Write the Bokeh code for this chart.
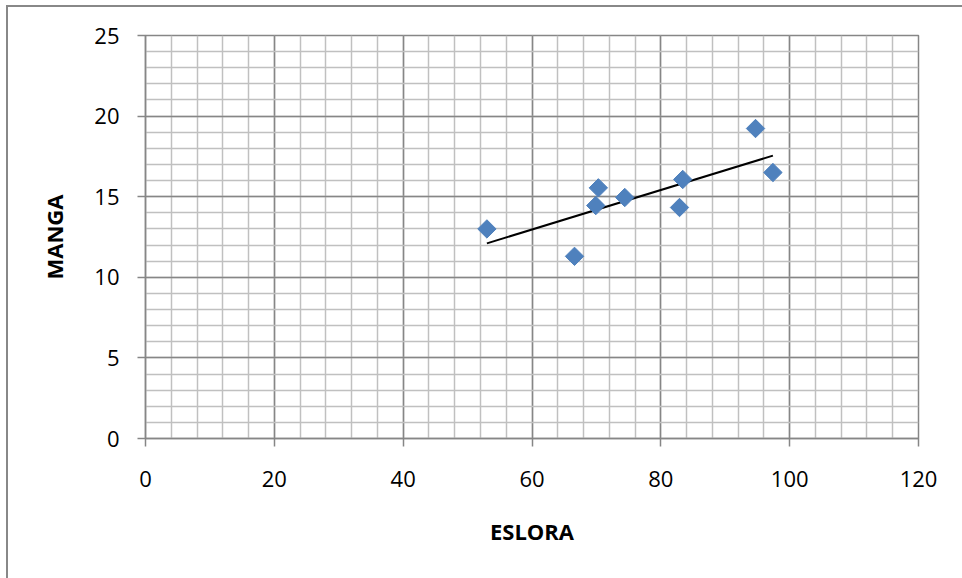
import numpy as np
from bokeh.plotting import figure
from bokeh.models import FixedTicker, Range1d, InlineStyleSheet
from bokeh.embed import file_html
from bokeh.resources import INLINE

# data
eslora = [53.0, 66.6, 70.3, 69.9, 74.4, 83.4, 82.9, 94.7, 97.4]
manga = [13.0, 11.3, 15.55, 14.45, 14.95, 16.07, 14.33, 19.23, 16.5]
x_ticks = [0, 20, 40, 60, 80, 100, 120]
y_ticks = [0, 5, 10, 15, 20, 25]
x_minor = list(range(0, 121, 4))
y_minor = list(range(0, 26, 1))

# linear trend line through the data (as in the original spreadsheet)
slope, intercept = np.polyfit(eslora, manga, 1)
trend_x = [min(eslora), max(eslora)]
trend_y = [slope * v + intercept for v in trend_x]

MAJ = "#868686"
MIN = "#c0c0c0"
FONT = "Open Sans"

p = figure(width=962, height=578, output_backend="svg", toolbar_location=None,
           x_range=Range1d(0, 120), y_range=Range1d(0, 25),
           min_border_left=145, min_border_right=44, min_border_top=35, min_border_bottom=140)

p.xaxis.ticker = FixedTicker(ticks=x_ticks, minor_ticks=x_minor)
p.yaxis.ticker = FixedTicker(ticks=y_ticks, minor_ticks=y_minor)

for g in (p.xgrid, p.ygrid):
    g.grid_line_color = MAJ
    g.grid_line_width = 1.5
    g.minor_grid_line_color = MIN
    g.minor_grid_line_width = 1.5

for ax in (p.xaxis, p.yaxis):
    ax.axis_line_color = MAJ
    ax.axis_line_width = 1.5
    ax.major_tick_line_color = MAJ
    ax.major_tick_line_width = 1.5
    ax.major_tick_out = 8
    ax.major_tick_in = 0
    ax.minor_tick_out = 0
    ax.minor_tick_in = 0
    ax.major_label_text_font = FONT
    ax.major_label_text_font_size = "22px"
    ax.major_label_text_color = "black"
    ax.axis_label_text_font = FONT
    ax.axis_label_text_font_size = "22px"
    ax.axis_label_text_font_style = "bold"
    ax.axis_label_text_color = "black"

p.xaxis.axis_label = "ESLORA"
p.yaxis.axis_label = "MANGA"
p.xaxis.major_label_standoff = 24
p.yaxis.major_label_standoff = 18
p.xaxis.axis_label_standoff = 26
p.yaxis.axis_label_standoff = 22

p.outline_line_color = MAJ
p.outline_line_width = 1.5

p.line(trend_x, trend_y, line_color="black", line_width=2)
p.scatter(eslora, manga, marker="square", size=13, angle=np.pi / 4,
          fill_color="#4f81bd", line_color="#4f81bd")

p.stylesheets = [InlineStyleSheet(css="""
:host { position: relative; }
:host::after { content: ''; position: absolute; left: 6px; top: 5px; right: -20px; bottom: -20px;
  border: 2px solid #888888; pointer-events: none; }
""")]

open("out.html", "w").write(file_html(p, INLINE))
